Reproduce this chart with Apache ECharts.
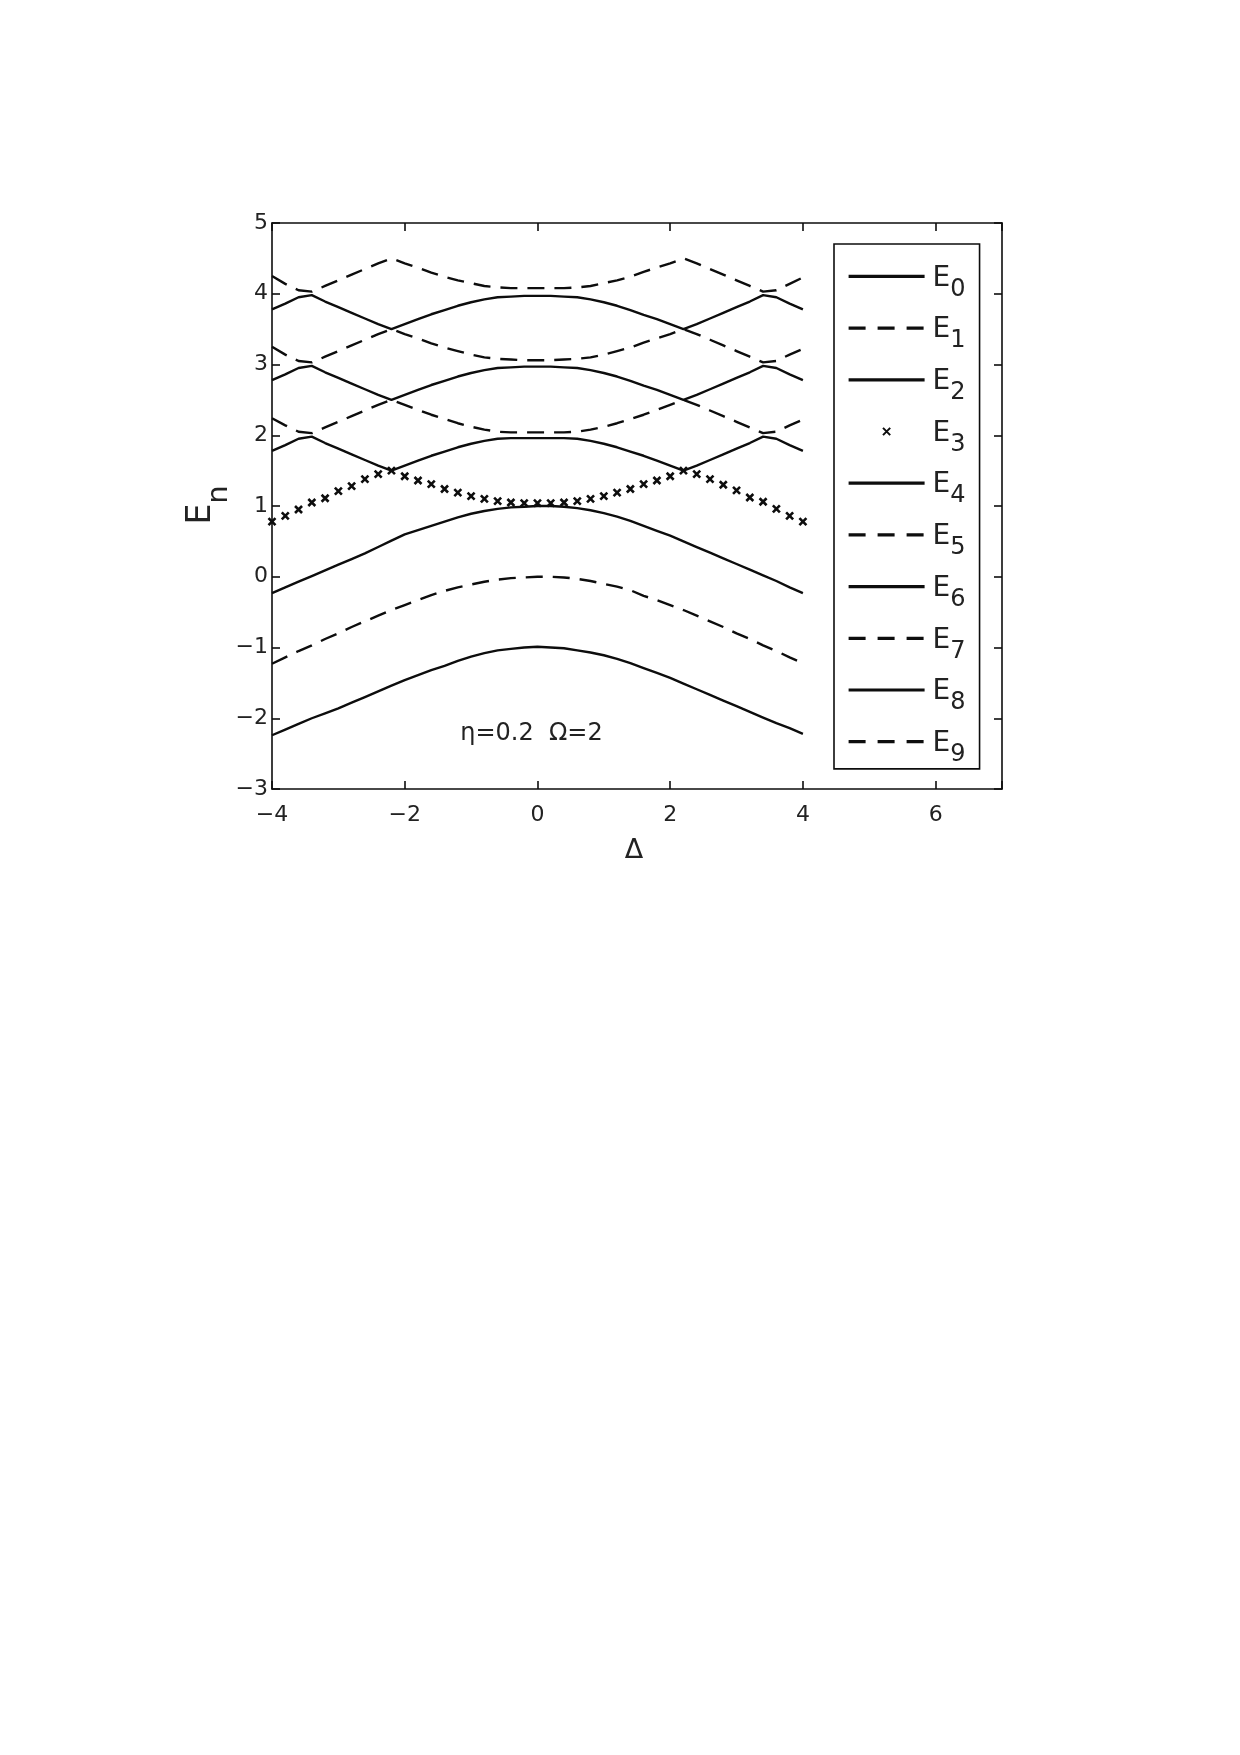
<!DOCTYPE html>
<html>
<head>
<meta charset="utf-8">
<script src="https://cdn.jsdelivr.net/npm/echarts@6/dist/echarts.min.js"></script>
<style>
html,body{margin:0;padding:0;background:#fff;}
#c{width:1240px;height:1755px;}
</style>
</head>
<body>
<div id="c"></div>
<script>
// ---- data ----
const DELTA = [-4,-3.8,-3.6,-3.4,-3.2,-3,-2.8,-2.6,-2.4,-2.2,-2,-1.8,-1.6,-1.4,-1.2,-1,-0.8,-0.6,-0.4,-0.2,0,0.2,0.4,0.6,0.8,1,1.2,1.4,1.6,1.8,2,2.2,2.4,2.6,2.8,3,3.2,3.4,3.6,3.8,4];

const E0 = [-2.24,-2.16,-2.08,-2.00,-1.93,-1.86,-1.78,-1.70,-1.62,-1.54,-1.46,-1.39,-1.32,-1.26,-1.19,-1.13,-1.08,-1.04,-1.02,-1.00,-0.99,
            -1.00,-1.01,-1.04,-1.07,-1.11,-1.16,-1.22,-1.29,-1.36,-1.43,-1.51,-1.59,-1.67,-1.75,-1.83,-1.91,-1.99,-2.07,-2.14,-2.22];
const E1 = [-1.23,-1.14,-1.05,-0.97,-0.88,-0.80,-0.71,-0.63,-0.55,-0.47,-0.40,-0.33,-0.26,-0.20,-0.15,-0.11,-0.07,-0.04,-0.02,-0.01,0.00,
            0.00,-0.01,-0.03,-0.06,-0.10,-0.14,-0.19,-0.27,-0.33,-0.40,-0.47,-0.55,-0.63,-0.71,-0.80,-0.88,-0.97,-1.05,-1.14,-1.22];
const E2 = [-0.23,-0.15,-0.07,0.01,0.09,0.17,0.25,0.33,0.42,0.51,0.60,0.66,0.72,0.78,0.84,0.89,0.93,0.96,0.98,0.99,1.00,
            1.00,0.99,0.97,0.94,0.90,0.85,0.79,0.72,0.65,0.58,0.50,0.42,0.34,0.26,0.18,0.10,0.02,-0.06,-0.15,-0.23];
const E3 = [0.78,0.86,0.95,1.05,1.11,1.21,1.28,1.38,1.45,1.50,1.42,1.36,1.31,1.24,1.19,1.14,1.10,1.07,1.05,1.04,1.04,
            1.04,1.05,1.07,1.10,1.14,1.19,1.24,1.31,1.36,1.42,1.50,1.45,1.38,1.30,1.22,1.12,1.06,0.96,0.86,0.78];
const E4 = [1.78,1.86,1.95,1.98,1.89,1.81,1.73,1.65,1.57,1.50,1.57,1.64,1.71,1.77,1.83,1.88,1.92,1.95,1.96,1.96,1.96,
            1.96,1.96,1.95,1.92,1.88,1.83,1.77,1.71,1.64,1.57,1.50,1.57,1.65,1.73,1.81,1.89,1.98,1.95,1.86,1.78];
const E5 = [2.24,2.14,2.05,2.03,2.11,2.19,2.27,2.35,2.43,2.50,2.43,2.36,2.29,2.23,2.17,2.12,2.08,2.05,2.04,2.04,2.04,
            2.04,2.04,2.05,2.08,2.12,2.17,2.23,2.29,2.36,2.43,2.50,2.43,2.35,2.27,2.19,2.11,2.03,2.05,2.14,2.22];
const E6 = [2.78,2.86,2.95,2.98,2.89,2.81,2.73,2.65,2.57,2.50,2.57,2.64,2.71,2.77,2.83,2.88,2.92,2.95,2.96,2.97,2.97,
            2.97,2.96,2.95,2.92,2.88,2.83,2.77,2.70,2.64,2.57,2.50,2.57,2.65,2.73,2.81,2.89,2.98,2.95,2.86,2.78];
const E7 = [3.25,3.14,3.05,3.03,3.11,3.19,3.27,3.35,3.43,3.50,3.43,3.37,3.30,3.24,3.19,3.14,3.10,3.08,3.07,3.06,3.06,
            3.06,3.07,3.08,3.10,3.14,3.19,3.24,3.31,3.37,3.43,3.50,3.43,3.35,3.27,3.19,3.11,3.03,3.05,3.14,3.22];
const E8 = [3.78,3.86,3.95,3.98,3.89,3.81,3.73,3.65,3.57,3.50,3.57,3.64,3.71,3.77,3.83,3.88,3.92,3.95,3.96,3.97,3.97,
            3.97,3.96,3.95,3.92,3.88,3.83,3.77,3.70,3.64,3.57,3.50,3.57,3.65,3.73,3.81,3.89,3.98,3.95,3.86,3.78];
const E9 = [4.25,4.14,4.05,4.03,4.11,4.19,4.27,4.35,4.43,4.50,4.43,4.37,4.30,4.24,4.19,4.15,4.11,4.09,4.08,4.08,4.08,
            4.08,4.08,4.09,4.11,4.15,4.19,4.24,4.31,4.37,4.43,4.50,4.43,4.35,4.27,4.19,4.11,4.03,4.05,4.14,4.23];

const LEVEL_NAMES = ['E0','E1','E2','E3','E4','E5','E6','E7','E8','E9'];
const LEVEL_SUBS  = ['0','1','2','3','4','5','6','7','8','9'];
const LEVELS = [E0,E1,E2,E3,E4,E5,E6,E7,E8,E9];
const ANNOTATION = 'η=0.2  Ω=2';
const X_NAME = 'Δ';
const Y_NAME_MAIN = 'E';
const Y_NAME_SUB = 'n';

// ---- styling ----
const FONT = 'DejaVu Sans';
const INK = '#0d0d0d';
const TXT = '#222';
const DASH = [17, 10];
const XMARK = 'path://M0,0L10,10M10,0L0,10';
const KIND = ['solid','dashed','solid','marker','solid','dashed','solid','dashed','solid','dashed'];

function fmt(v) { return v < 0 ? '\u2212' + Math.abs(v) : String(v); }

const series = LEVELS.map(function (ys, k) {
  const s = {
    name: LEVEL_NAMES[k], type: 'line', animation: false, silent: true,
    data: DELTA.map(function (d, i) { return [d, ys[i]]; }),
    xAxisIndex: 0, yAxisIndex: 0, z: 3
  };
  if (KIND[k] === 'marker') {
    s.symbol = XMARK; s.symbolSize = 7; s.showSymbol = true; s.showAllSymbol = true;
    s.itemStyle = { color: INK, borderColor: INK, borderWidth: 2.6 };
    s.lineStyle = { opacity: 0, width: 0 };
  } else {
    s.symbol = 'none'; s.showSymbol = false;
    s.itemStyle = { color: INK };
    s.lineStyle = { color: INK, width: 2.4, type: KIND[k] === 'dashed' ? DASH : 'solid' };
  }
  return s;
});

const axisLine = { show: true, onZero: false, lineStyle: { color: INK, width: 1.6 } };
const axisTick = { show: true, inside: true, length: 8, lineStyle: { color: INK, width: 1.6 } };

const chart = echarts.init(document.getElementById('c'), null, { renderer: 'canvas' });
chart.setOption({
  backgroundColor: '#fff',
  animation: false,
  grid: { left: 272, top: 223, width: 730, height: 566, containLabel: false, outerBoundsMode: 'none' },
  xAxis: [
    { type: 'value', min: -4, max: 7, interval: 2, position: 'bottom',
      axisLine: axisLine, axisTick: axisTick, splitLine: { show: false },
      axisLabel: { margin: 15, fontSize: 22, fontFamily: FONT, color: TXT,
        formatter: function (v) { return v > 6 ? '' : fmt(v); } } },
    { type: 'value', min: -4, max: 7, interval: 2, position: 'top',
      axisLine: axisLine, axisTick: axisTick, splitLine: { show: false }, axisLabel: { show: false } }
  ],
  yAxis: [
    { type: 'value', min: -3, max: 5, interval: 1, position: 'left',
      axisLine: axisLine, axisTick: axisTick, splitLine: { show: false },
      axisLabel: { margin: 4, fontSize: 22, fontFamily: FONT, color: TXT, formatter: fmt } },
    { type: 'value', min: -3, max: 5, interval: 1, position: 'right',
      axisLine: axisLine, axisTick: axisTick, splitLine: { show: false }, axisLabel: { show: false } }
  ],
  legend: {
    orient: 'vertical', left: 834, top: 244,
    padding: [18.4, 14, 2.2, 13], itemGap: 12.7, itemWidth: 76, itemHeight: 9,
    borderColor: INK, borderWidth: 1.6, backgroundColor: '#fff', selectedMode: false,
    lineStyle: { width: 3.2 },
    data: LEVEL_NAMES.map(function (n, k) {
      if (KIND[k] === 'marker') return { name: n, lineStyle: { opacity: 0 } };
      if (KIND[k] === 'dashed') return { name: n, itemStyle: { opacity: 0 }, lineStyle: { type: [17, 12] } };
      return { name: n, itemStyle: { opacity: 0 } };
    }),
    formatter: function (n) { return '{e|E}{s|' + LEVEL_SUBS[LEVEL_NAMES.indexOf(n)] + '}'; },
    textStyle: {
      color: TXT, fontFamily: FONT,
      rich: {
        e: { fontSize: 28, lineHeight: 28, padding: [2, 0, 0, 3], verticalAlign: 'top', fontFamily: FONT, color: TXT },
        s: { fontSize: 24, lineHeight: 22, padding: [15, 0, 0, 0], verticalAlign: 'top', fontFamily: FONT, color: TXT }
      }
    }
  },
  graphic: [
    { type: 'text', x: 201.5, y: 505, rotation: Math.PI / 2, z: 10,
      style: { text: '{e|' + Y_NAME_MAIN + '}{s|' + Y_NAME_SUB + '}', align: 'center', verticalAlign: 'middle', fill: TXT,
        rich: {
          e: { fontSize: 33, lineHeight: 34, verticalAlign: 'top', fontFamily: FONT, fill: TXT },
          s: { fontSize: 29, lineHeight: 28, padding: [20, 0, 0, 0], verticalAlign: 'top', fontFamily: FONT, fill: TXT }
        } } },
    { type: 'text', x: 531.5, y: 734, z: 10,
      style: { text: ANNOTATION, fontSize: 24, fontFamily: FONT, fill: TXT, align: 'center', verticalAlign: 'middle' } },
    { type: 'text', x: 634, y: 851, z: 10,
      style: { text: X_NAME, fontSize: 27, fontFamily: FONT, fill: TXT, align: 'center', verticalAlign: 'middle' } }
  ],
  series: series
});
</script>
</body>
</html>
